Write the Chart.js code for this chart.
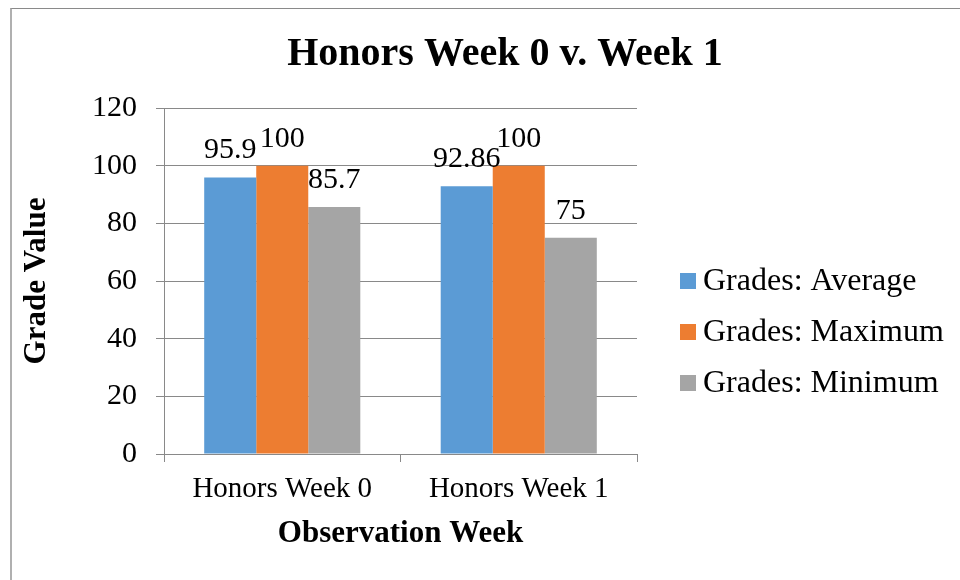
<!DOCTYPE html>
<html>
<head>
<meta charset="utf-8">
<title>Honors Week 0 v. Week 1</title>
<script src="https://cdn.jsdelivr.net/npm/chart.js@4.4.1/dist/chart.umd.min.js"></script>
<style>
    html, body { margin: 0; padding: 0; background: #fff; overflow: hidden; }
    #frame {
        position: absolute; left: 10px; top: 8px; width: 1200px; height: 800px;
        border-left: 2px solid #b0b0b0; border-top: 1px solid #8a8a8a;
    }
    #wrap { position: absolute; left: 0; top: 0; width: 960px; height: 580px; }
</style>
</head>
<body>
<div id="frame"></div>
<div id="wrap"><canvas id="chart" width="960" height="580"></canvas></div>
<script>
// chart data
const categories = ['Honors Week 0', 'Honors Week 1'];
const seriesNames = ['Grades: Average', 'Grades: Maximum', 'Grades: Minimum'];
const avgGrades = [95.9, 92.86];
const maxGrades = [100, 100];
const minGrades = [85.7, 75];
const yTicks = [0, 20, 40, 60, 80, 100, 120];

const colors = ['#5b9bd5', '#ed7d31', '#a5a5a5'];
const serif = '"Liberation Serif", "Times New Roman", serif';
const gridGray = '#898989';

// title, side legend and value labels (Excel style)
const excelBits = {
    id: 'excelBits',
    afterDraw(chart) {
        const ctx = chart.ctx;
        ctx.save();
        ctx.fillStyle = '#000';

        // title
        ctx.font = 'bold 40px ' + serif;
        ctx.textAlign = 'center';
        ctx.textBaseline = 'middle';
        ctx.fillText('Honors Week 0 v. Week 1', 505, 55);

        // value labels above bars
        ctx.font = '30px ' + serif;
        ctx.textBaseline = 'alphabetic';
        chart.data.datasets.forEach((ds, i) => {
            const meta = chart.getDatasetMeta(i);
            meta.data.forEach((bar, j) => {
                ctx.fillText(String(ds.data[j]), bar.x, bar.y - 19);
            });
        });

        // legend on the right
        ctx.font = '32px ' + serif;
        ctx.textAlign = 'left';
        ctx.textBaseline = 'middle';
        chart.data.datasets.forEach((ds, i) => {
            const cy = 281 + i * 51;
            ctx.fillStyle = ds.backgroundColor;
            ctx.fillRect(680, cy - 8, 16, 16);
            ctx.fillStyle = '#000';
            ctx.fillText(ds.label, 703, cy + 1);
        });
        ctx.restore();
    }
};

const datasets = [avgGrades, maxGrades, minGrades].map((vals, i) => ({
    label: seriesNames[i],
    data: vals,
    backgroundColor: colors[i],
    borderWidth: 0
}));

new Chart(document.getElementById('chart').getContext('2d'), {
    type: 'bar',
    data: { labels: categories, datasets: datasets },
    options: {
        responsive: false,
        animation: false,
        layout: { padding: { left: 15, top: 108, right: 323, bottom: 20 } },
        datasets: { bar: { categoryPercentage: 0.66, barPercentage: 1 } },
        plugins: {
            legend: { display: false },
            title: { display: false },
            tooltip: { enabled: false }
        },
        scales: {
            x: {
                grid: {
                    display: true, drawOnChartArea: false, drawTicks: true,
                    tickLength: 8, color: gridGray, offset: true
                },
                border: { display: true, color: gridGray },
                ticks: { color: '#000', font: { family: serif, size: 29 }, padding: 10 },
                title: {
                    display: true, text: 'Observation Week', color: '#000',
                    font: { family: serif, size: 31, weight: 'bold' },
                    padding: { top: 4, bottom: 7 }
                },
                afterFit(scale) { scale.height = 106; }
            },
            y: {
                min: 0,
                max: 120,
                afterBuildTicks(scale) { scale.ticks = yTicks.map(v => ({ value: v })); },
                grid: { color: gridGray, tickLength: 8, drawTicks: true },
                border: { display: true, color: gridGray },
                ticks: { color: '#000', font: { family: serif, size: 30 }, padding: 19 },
                title: {
                    display: true, text: 'Grade Value', color: '#000',
                    font: { family: serif, size: 31, weight: 'bold' },
                    padding: { top: 3, bottom: 4 }
                },
                afterFit(scale) { scale.width = 149; }
            }
        }
    },
    plugins: [excelBits]
});
</script>
</body>
</html>
